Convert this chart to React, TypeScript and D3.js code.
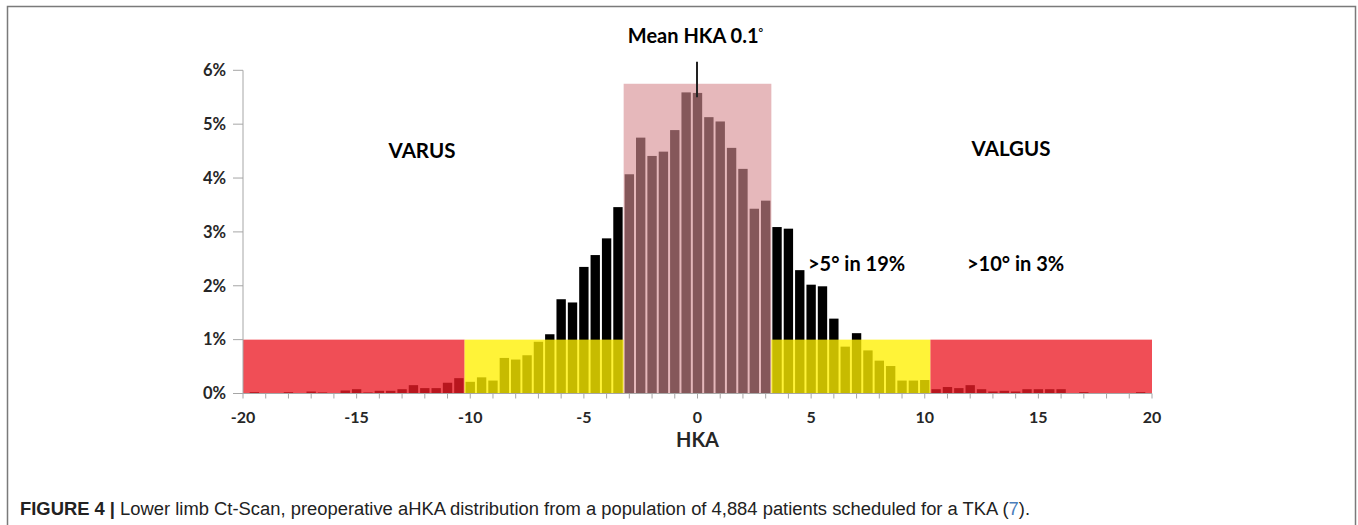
import * as React from "react";
import * as d3 from "d3";

// bin centres every 0.5 degree, -20 .. 20
const hka = d3.range(-40, 41).map(k => k / 2);

// share of patients per bin, in %
const share = [
  0, 0.025, 0, 0, 0.025, 0, 0.037, 0.02, 0, 0.056,
  0.08, 0.02, 0.05, 0.05, 0.08, 0.155, 0.1, 0.1, 0.2, 0.285,
  0.217, 0.3, 0.24, 0.66, 0.63, 0.71, 0.96, 1.1, 1.75, 1.69,
  2.35, 2.57, 2.88, 3.46, 4.07, 4.75, 4.41, 4.49, 4.89, 5.59,
  5.58, 5.13, 5.05, 4.56, 4.17, 3.43, 3.58, 3.09, 3.06, 2.29,
  2.02, 1.99, 1.39, 0.87, 1.12, 0.8, 0.61, 0.51, 0.24, 0.24,
  0.25, 0.08, 0.12, 0.1, 0.155, 0.08, 0.037, 0.05, 0.037, 0.08,
  0.08, 0.08, 0.08, 0, 0.025, 0, 0, 0, 0, 0.025, 0
];

// background zones: from, to, height (%)
const zones = [
  { from: -20, to: -10.25, top: 1, kind: "red" },
  { from: -10.25, to: -3.25, top: 1, kind: "yellow" },
  { from: -3.25, to: 3.25, top: 5.75, kind: "pink" },
  { from: 3.25, to: 10.25, top: 1, kind: "yellow" },
  { from: 10.25, to: 20, top: 1, kind: "red" }
];

const yTicks = [0, 1, 2, 3, 4, 5, 6];
const xMinor = d3.range(-20, 21);
const xLabels = [-20, -15, -10, -5, 0, 5, 10, 15, 20];
const meanHka = 0.1;

const zoneFill = {
  red: { color: "rgb(236,28,38)", alpha: 0.78 },
  yellow: { color: "rgb(255,240,0)", alpha: 0.78 },
  pink: { color: "rgb(214,140,145)", alpha: 0.62 }
};

const font = "Lato, 'Open Sans', sans-serif";

export default function App() {
  const x = d3.scaleLinear().domain([-20, 20]).range([243, 1152]);
  const y = d3.scaleLinear().domain([0, 6]).range([393.5, 70.3]);
  const step = x(0.5) - x(0);
  const barW = step - 2;

  return (
    <svg width={1358} height={525} style={{ display: "block", position: "absolute", left: 0, top: 0 }}>
      <rect x={0} y={0} width={1358} height={525} fill="#fff" />
      {/* frame */}
      <path d="M7.5,525 V6.5 H1355.5 V525" fill="none" stroke="#7a7a7a" strokeWidth={1.5} />

      {/* bars */}
      {hka.map((c, i) => share[i] > 0 && (
        <rect key={c} x={x(c) - barW / 2} y={y(share[i])} width={barW}
          height={y(0) - y(share[i])} fill="#000" />
      ))}

      {/* translucent zones over the bars */}
      {zones.map((z, i) => (
        <rect key={i} x={x(z.from)} y={y(z.top)} width={x(z.to) - x(z.from)}
          height={y(0) - y(z.top)} fill={zoneFill[z.kind].color}
          fillOpacity={zoneFill[z.kind].alpha} />
      ))}

      {/* axes */}
      <line x1={x(-20)} x2={x(-20)} y1={y(6)} y2={y(0)} stroke="#a6a6a6" />
      {yTicks.map(t => (
        <g key={t}>
          <line x1={x(-20) - 10} x2={x(-20)} y1={y(t)} y2={y(t)} stroke="#a6a6a6" />
          <text x={226} y={y(t)} dy="0.35em" textAnchor="end" fontFamily={font}
            fontWeight="bold" fontSize={16.5} fill="#262626">{t + "%"}</text>
        </g>
      ))}
      <line x1={x(-20)} x2={x(20)} y1={y(0)} y2={y(0)} stroke="#a6a6a6" />
      {xMinor.map(t => (
        <line key={t} x1={x(t)} x2={x(t)} y1={y(0)} y2={y(0) + 5} stroke="#a6a6a6" />
      ))}
      {xLabels.map(t => (
        <text key={t} x={x(t)} y={423} textAnchor="middle" fontFamily={font}
          fontWeight="bold" fontSize={16} fill="#262626">{t}</text>
      ))}
      <text x={x(0)} y={447} textAnchor="middle" fontFamily={font} fontWeight="bold"
        fontSize={20} fill="#262626">HKA</text>

      {/* mean marker */}
      <line x1={x(0) - 0.5} x2={x(0) - 0.5} y1={y(6.16)} y2={y(5.5)} stroke="#222" strokeWidth={2} />
      <text x={x(0) - 2} y={43} textAnchor="middle" fontFamily={font} fontWeight="bold"
        fontSize={20} fill="#000">{"Mean HKA " + meanHka}<tspan dy={-7} fontSize={11}>°</tspan></text>

      {/* annotations */}
      <text x={422} y={158} textAnchor="middle" fontFamily={font} fontWeight="bold" fontSize={20.5}>VARUS</text>
      <text x={1011} y={156} textAnchor="middle" fontFamily={font} fontWeight="bold" fontSize={20.5}>VALGUS</text>
      <text x={808} y={271} fontFamily={font} fontWeight="bold" fontSize={20}>{">5° in 19%"}</text>
      <text x={967} y={271} fontFamily={font} fontWeight="bold" fontSize={20}>{">10° in 3%"}</text>

      {/* caption */}
      <text x={20} y={515} fontFamily="'Liberation Sans Narrow', 'Liberation Sans', Arial, sans-serif"
        fontSize={18} fill="#222" textLength={1010} lengthAdjust="spacingAndGlyphs">
        <tspan fontWeight="bold">FIGURE 4 | </tspan>
        <tspan>Lower limb Ct-Scan, preoperative aHKA distribution from a population of 4,884 patients scheduled for a TKA (</tspan>
        <tspan fill="#4a7ebb">7</tspan>
        <tspan>).</tspan>
      </text>
    </svg>
  );
}
